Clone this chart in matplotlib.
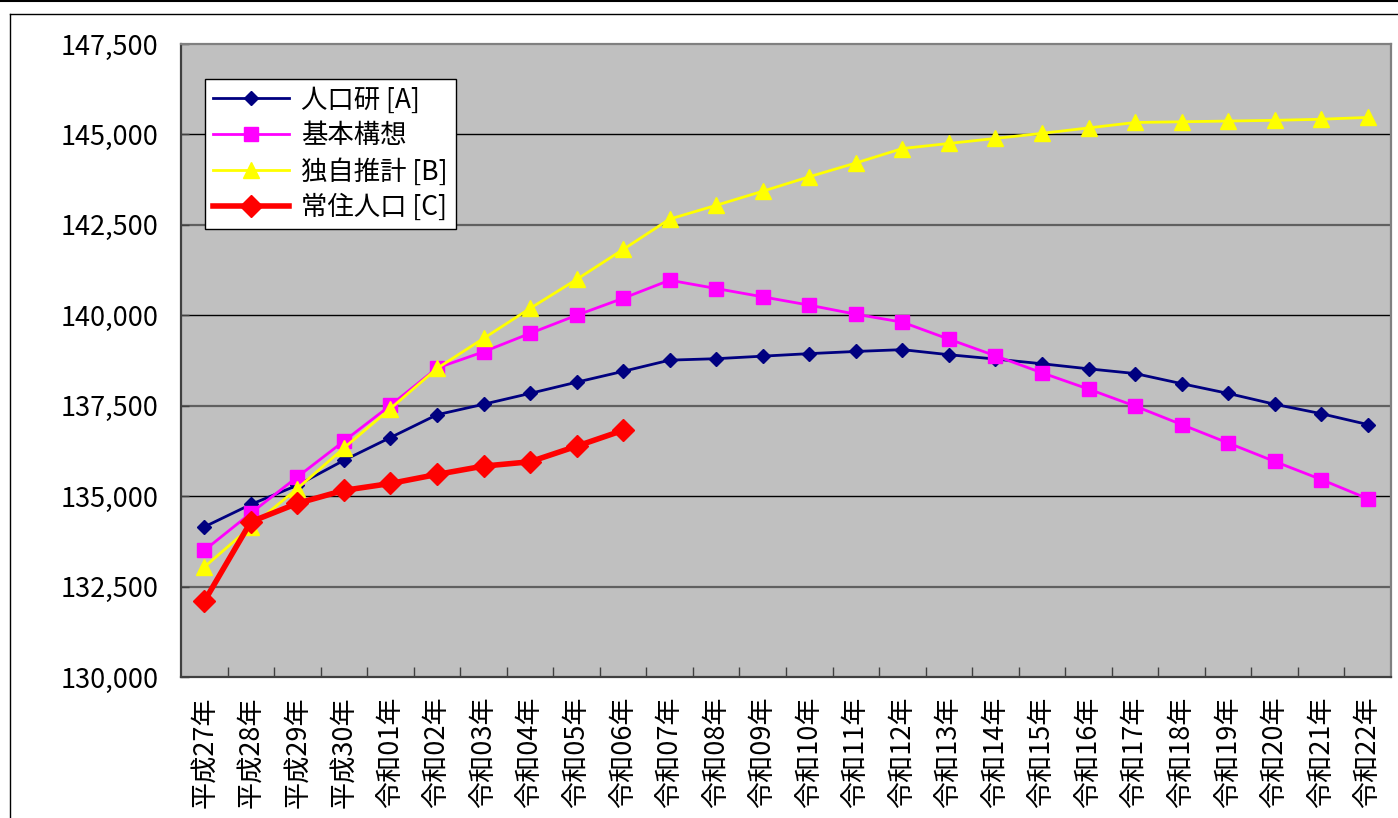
import matplotlib.pyplot as plt
from matplotlib.lines import Line2D

plt.rcParams['font.family'] = ['Noto Sans CJK JP', 'DejaVu Sans']

# categories (fiscal years)
years = ['平成27年', '平成28年', '平成29年', '平成30年',
         '令和01年', '令和02年', '令和03年', '令和04年', '令和05年', '令和06年',
         '令和07年', '令和08年', '令和09年', '令和10年', '令和11年', '令和12年',
         '令和13年', '令和14年', '令和15年', '令和16年', '令和17年', '令和18年',
         '令和19年', '令和20年', '令和21年', '令和22年']

# series values
jinkouken_a = [134150, 134770, 135300, 135990, 136620, 137250, 137540, 137840,
               138150, 138450, 138760, 138800, 138870, 138940, 139000, 139050,
               138910, 138790, 138660, 138520, 138390, 138110, 137840, 137540,
               137280, 136980]
kihon_kousou = [133500, 134530, 135530, 136520, 137510, 138540, 138990, 139500,
                140000, 140470, 140970, 140740, 140510, 140280, 140030, 139810,
                139340, 138880, 138410, 137960, 137490, 136980, 136470, 135960,
                135460, 134930]
dokuji_b = [133040, 134150, 135210, 136330, 137420, 138530, 139360, 140190,
            140990, 141820, 142660, 143040, 143430, 143830, 144210, 144610,
            144750, 144890, 145030, 145180, 145330, 145350, 145370, 145390,
            145420, 145470]
jouju_c = [132090, 134290, 134800, 135160, 135350, 135600, 135830, 135950,
           136380, 136820]

x = list(range(len(years)))

fig = plt.figure(figsize=(13.98, 8.18), dpi=100)
ax = fig.add_axes([181/1398, 141/818, 1210/1398, 633/818])
ax.set_facecolor('#C0C0C0')

# gridlines (alternating black / grey as in the original)
for v in [132500, 135000, 137500, 140000, 142500, 145000]:
    if v % 5000 == 0:
        ax.axhline(v, color='black', lw=1.0, zorder=1)
    else:
        ax.axhline(v, color='#606060', lw=1.6, zorder=1)

ax.plot(x, jinkouken_a, color='#000080', lw=2.0, marker='D', ms=7.5,
        label='人口研 [A]', zorder=3)
ax.plot(x, kihon_kousou, color='#FF00FF', lw=2.0, marker='s', ms=10,
        label='基本構想', zorder=4)
ax.plot(x, dokuji_b, color='#FFFF00', lw=2.0, marker='^', ms=11,
        label='独自推計 [B]', zorder=5)
ax.plot(x[:len(jouju_c)], jouju_c, color='#FF0000', lw=4.0, marker='D', ms=11.5,
        label='常住人口 [C]', zorder=6)

ax.set_xlim(-0.5, len(years) - 0.5)
ax.set_ylim(130000, 147500)
ax.set_yticks(range(130000, 147501, 2500))
ax.set_yticklabels([f'{v:,}' for v in range(130000, 147501, 2500)], fontsize=19.5)
ax.set_xticks(x)
ax.set_xticklabels(years, rotation=90, fontsize=19.5)
ax.set_xticks([i + 0.5 for i in x[:-1]], minor=True)
ax.tick_params(axis='x', which='major', length=0, pad=14)
ax.tick_params(axis='x', which='minor', direction='in', length=7, width=1, color='#404040')
ax.tick_params(axis='y', direction='in', length=6, width=1, pad=16, color='#404040')

for side in ['top', 'right']:
    ax.spines[side].set_color('#808080')
    ax.spines[side].set_linewidth(1.6)
for side in ['left', 'bottom']:
    ax.spines[side].set_color('#404040')
    ax.spines[side].set_linewidth(1.6)

leg = ax.legend(loc='upper left', bbox_to_anchor=(0.0198, 0.945), fontsize=19,
                frameon=True, fancybox=False, edgecolor='black', framealpha=1,
                handlelength=2.9, labelspacing=0.32, borderpad=0.3,
                handletextpad=0.45, borderaxespad=0)
leg.get_frame().set_linewidth(1.0)

# outer frame of the chart area
fig.add_artist(Line2D([0, 1], [1 - 1/818, 1 - 1/818], color='black', lw=1.5,
                      transform=fig.transFigure))
fig.add_artist(Line2D([10/1398, 1], [1 - 14/818, 1 - 14/818], color='black', lw=1.0,
                      transform=fig.transFigure))
fig.add_artist(Line2D([10/1398, 10/1398], [0, 1 - 14/818], color='black', lw=1.0,
                      transform=fig.transFigure))

fig.savefig('out.png', dpi=100)
